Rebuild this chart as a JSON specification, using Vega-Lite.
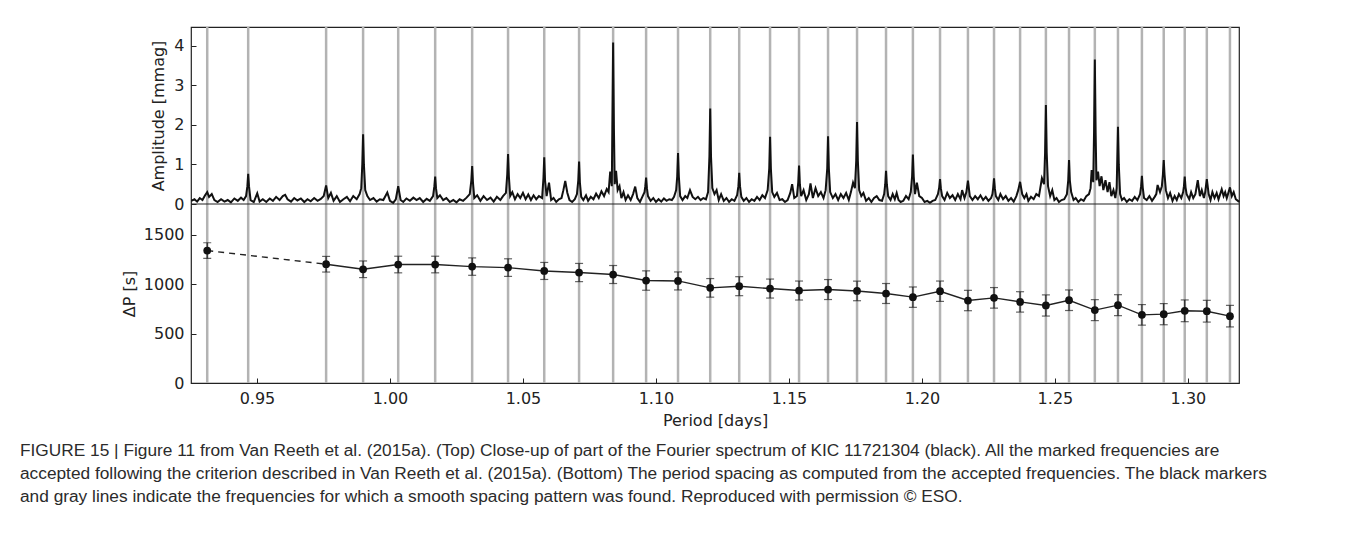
{
  "$schema": "https://vega.github.io/schema/vega-lite/v6.json",
  "width": 1048,
  "height": 356,
  "autosize": {"type": "none"},
  "padding": {"left": 191, "top": 27, "right": 116, "bottom": 165},
  "background": "white",
  "config": {
    "view": {"stroke": "#222", "strokeWidth": 1.2},
    "font": "DejaVu Sans",
    "axis": {
      "labelFont": "DejaVu Sans", "labelFontSize": 16, "labelColor": "#222",
      "titleFont": "DejaVu Sans", "titleFontSize": 16, "titleFontWeight": "normal", "titleColor": "#222",
      "grid": false, "domain": false, "tickColor": "#222", "tickSize": -5, "tickWidth": 1, "labelPadding": 12
    }
  },
  "title": {
    "text": [
      "FIGURE 15 | Figure 11 from Van Reeth et al. (2015a). (Top) Close-up of part of the Fourier spectrum of KIC 11721304 (black). All the marked frequencies are",
      "accepted following the criterion described in Van Reeth et al. (2015a). (Bottom) The period spacing as computed from the accepted frequencies. The black markers",
      "and gray lines indicate the frequencies for which a smooth spacing pattern was found. Reproduced with permission © ESO."
    ],
    "orient": "bottom", "anchor": "start", "frame": "group", "dx": -171, "offset": 14,
    "font": "Liberation Sans", "fontSize": 17.3, "fontWeight": "normal", "color": "#2b2b2b", "lineHeight": 23
  },
  "datasets": {
    "modes": [
      {"p": 0.9313}, {"p": 0.9467}, {"p": 0.9760}, {"p": 0.9899}, {"p": 1.0031}, {"p": 1.0170}, {"p": 1.0309}, {"p": 1.0444},
      {"p": 1.0580}, {"p": 1.0711}, {"p": 1.0839}, {"p": 1.0963}, {"p": 1.1083}, {"p": 1.1204}, {"p": 1.1313}, {"p": 1.1429},
      {"p": 1.1538}, {"p": 1.1647}, {"p": 1.1756}, {"p": 1.1865}, {"p": 1.1966}, {"p": 1.2068}, {"p": 1.2173}, {"p": 1.2271},
      {"p": 1.2369}, {"p": 1.2466}, {"p": 1.2553}, {"p": 1.2650}, {"p": 1.2737}, {"p": 1.2827}, {"p": 1.2909}, {"p": 1.2988},
      {"p": 1.3071}, {"p": 1.3158}
    ],
    "dp": [
      {"p": 0.9313, "dp": 1339, "lo": 1260, "hi": 1418},
      {"p": 0.9760, "dp": 1201, "lo": 1122, "hi": 1280},
      {"p": 0.9899, "dp": 1150, "lo": 1066, "hi": 1234},
      {"p": 1.0031, "dp": 1198, "lo": 1114, "hi": 1282},
      {"p": 1.0170, "dp": 1198, "lo": 1114, "hi": 1282},
      {"p": 1.0309, "dp": 1177, "lo": 1089, "hi": 1265},
      {"p": 1.0444, "dp": 1167, "lo": 1078, "hi": 1256},
      {"p": 1.0580, "dp": 1133, "lo": 1047, "hi": 1219},
      {"p": 1.0711, "dp": 1117, "lo": 1025, "hi": 1209},
      {"p": 1.0839, "dp": 1097, "lo": 1006, "hi": 1188},
      {"p": 1.0963, "dp": 1036, "lo": 938, "hi": 1134},
      {"p": 1.1083, "dp": 1032, "lo": 941, "hi": 1123},
      {"p": 1.1204, "dp": 962, "lo": 868, "hi": 1056},
      {"p": 1.1313, "dp": 979, "lo": 883, "hi": 1075},
      {"p": 1.1429, "dp": 955, "lo": 859, "hi": 1051},
      {"p": 1.1538, "dp": 935, "lo": 839, "hi": 1031},
      {"p": 1.1647, "dp": 945, "lo": 844, "hi": 1046},
      {"p": 1.1756, "dp": 931, "lo": 832, "hi": 1030},
      {"p": 1.1865, "dp": 905, "lo": 804, "hi": 1006},
      {"p": 1.1966, "dp": 868, "lo": 765, "hi": 971},
      {"p": 1.2068, "dp": 928, "lo": 825, "hi": 1031},
      {"p": 1.2173, "dp": 834, "lo": 731, "hi": 937},
      {"p": 1.2271, "dp": 861, "lo": 757, "hi": 965},
      {"p": 1.2369, "dp": 820, "lo": 717, "hi": 923},
      {"p": 1.2466, "dp": 784, "lo": 677, "hi": 891},
      {"p": 1.2553, "dp": 837, "lo": 733, "hi": 941},
      {"p": 1.2650, "dp": 737, "lo": 631, "hi": 843},
      {"p": 1.2737, "dp": 787, "lo": 681, "hi": 893},
      {"p": 1.2827, "dp": 689, "lo": 585, "hi": 793},
      {"p": 1.2909, "dp": 696, "lo": 589, "hi": 803},
      {"p": 1.2988, "dp": 730, "lo": 620, "hi": 840},
      {"p": 1.3071, "dp": 726, "lo": 616, "hi": 836},
      {"p": 1.3158, "dp": 676, "lo": 567, "hi": 785}
    ],
    "spec": [
      {"p": 0.9253, "a": 0.08}, {"p": 0.9265, "a": 0.12}, {"p": 0.9275, "a": 0.06}, {"p": 0.9285, "a": 0.15},
      {"p": 0.9295, "a": 0.10}, {"p": 0.9305, "a": 0.22}, {"p": 0.9313, "a": 0.30}, {"p": 0.9320, "a": 0.18},
      {"p": 0.9330, "a": 0.25}, {"p": 0.9340, "a": 0.10}, {"p": 0.9352, "a": 0.05}, {"p": 0.9365, "a": 0.12},
      {"p": 0.9378, "a": 0.06}, {"p": 0.9390, "a": 0.10}, {"p": 0.9402, "a": 0.04}, {"p": 0.9415, "a": 0.14},
      {"p": 0.9428, "a": 0.08}, {"p": 0.9440, "a": 0.16}, {"p": 0.9450, "a": 0.10}, {"p": 0.9459, "a": 0.20},
      {"p": 0.9464, "a": 0.45}, {"p": 0.9467, "a": 0.76}, {"p": 0.9470, "a": 0.45}, {"p": 0.9476, "a": 0.10},
      {"p": 0.9488, "a": 0.05}, {"p": 0.9501, "a": 0.27},
      {"p": 0.9510, "a": 0.06}, {"p": 0.9522, "a": 0.12}, {"p": 0.9535, "a": 0.05}, {"p": 0.9548, "a": 0.14},
      {"p": 0.9560, "a": 0.08}, {"p": 0.9572, "a": 0.18}, {"p": 0.9585, "a": 0.10}, {"p": 0.9597, "a": 0.20},
      {"p": 0.9606, "a": 0.23}, {"p": 0.9615, "a": 0.12}, {"p": 0.9628, "a": 0.06}, {"p": 0.9640, "a": 0.15},
      {"p": 0.9652, "a": 0.09}, {"p": 0.9665, "a": 0.14}, {"p": 0.9678, "a": 0.05}, {"p": 0.9690, "a": 0.12},
      {"p": 0.9702, "a": 0.07}, {"p": 0.9715, "a": 0.15}, {"p": 0.9728, "a": 0.08}, {"p": 0.9740, "a": 0.13},
      {"p": 0.9751, "a": 0.20}, {"p": 0.9760, "a": 0.47}, {"p": 0.9768, "a": 0.15}, {"p": 0.9778, "a": 0.28},
      {"p": 0.9788, "a": 0.08}, {"p": 0.9800, "a": 0.20}, {"p": 0.9812, "a": 0.05}, {"p": 0.9825, "a": 0.12},
      {"p": 0.9838, "a": 0.18}, {"p": 0.9850, "a": 0.07}, {"p": 0.9862, "a": 0.20}, {"p": 0.9875, "a": 0.12},
      {"p": 0.9886, "a": 0.25}, {"p": 0.9892, "a": 0.40}, {"p": 0.9896, "a": 1.0}, {"p": 0.9899, "a": 1.76},
      {"p": 0.9902, "a": 1.0}, {"p": 0.9907, "a": 0.35},
      {"p": 0.9915, "a": 0.20}, {"p": 0.9925, "a": 0.10}, {"p": 0.9938, "a": 0.15}, {"p": 0.9950, "a": 0.06},
      {"p": 0.9962, "a": 0.12}, {"p": 0.9975, "a": 0.10}, {"p": 0.9990, "a": 0.29}, {"p": 1.0000, "a": 0.08},
      {"p": 1.0012, "a": 0.03}, {"p": 1.0022, "a": 0.12}, {"p": 1.0031, "a": 0.45}, {"p": 1.0040, "a": 0.10},
      {"p": 1.0050, "a": 0.05}, {"p": 1.0062, "a": 0.14}, {"p": 1.0075, "a": 0.08}, {"p": 1.0088, "a": 0.16},
      {"p": 1.0100, "a": 0.10}, {"p": 1.0112, "a": 0.15}, {"p": 1.0125, "a": 0.05}, {"p": 1.0138, "a": 0.13},
      {"p": 1.0150, "a": 0.08}, {"p": 1.0162, "a": 0.20}, {"p": 1.0167, "a": 0.45}, {"p": 1.0170, "a": 0.69},
      {"p": 1.0173, "a": 0.40}, {"p": 1.0178, "a": 0.15},
      {"p": 1.0188, "a": 0.22}, {"p": 1.0200, "a": 0.10}, {"p": 1.0212, "a": 0.15}, {"p": 1.0225, "a": 0.05},
      {"p": 1.0238, "a": 0.10}, {"p": 1.0250, "a": 0.04}, {"p": 1.0262, "a": 0.12}, {"p": 1.0275, "a": 0.08},
      {"p": 1.0288, "a": 0.16}, {"p": 1.0300, "a": 0.25}, {"p": 1.0306, "a": 0.6}, {"p": 1.0309, "a": 0.96},
      {"p": 1.0312, "a": 0.55}, {"p": 1.0317, "a": 0.15},
      {"p": 1.0328, "a": 0.22}, {"p": 1.0340, "a": 0.08}, {"p": 1.0352, "a": 0.20}, {"p": 1.0365, "a": 0.10},
      {"p": 1.0378, "a": 0.16}, {"p": 1.0390, "a": 0.06}, {"p": 1.0402, "a": 0.18}, {"p": 1.0415, "a": 0.10},
      {"p": 1.0425, "a": 0.20}, {"p": 1.0436, "a": 0.28}, {"p": 1.0441, "a": 0.75}, {"p": 1.0444, "a": 1.26},
      {"p": 1.0447, "a": 0.7}, {"p": 1.0452, "a": 0.20},
      {"p": 1.0460, "a": 0.30}, {"p": 1.0470, "a": 0.12}, {"p": 1.0480, "a": 0.25}, {"p": 1.0490, "a": 0.15},
      {"p": 1.0500, "a": 0.28}, {"p": 1.0510, "a": 0.12}, {"p": 1.0520, "a": 0.24}, {"p": 1.0530, "a": 0.10},
      {"p": 1.0540, "a": 0.22}, {"p": 1.0550, "a": 0.12}, {"p": 1.0560, "a": 0.20}, {"p": 1.0572, "a": 0.15},
      {"p": 1.0577, "a": 0.65}, {"p": 1.0580, "a": 1.18}, {"p": 1.0583, "a": 0.6}, {"p": 1.0589, "a": 0.20},
      {"p": 1.0598, "a": 0.54}, {"p": 1.0606, "a": 0.10},
      {"p": 1.0615, "a": 0.15}, {"p": 1.0625, "a": 0.05}, {"p": 1.0635, "a": 0.12}, {"p": 1.0645, "a": 0.15},
      {"p": 1.0652, "a": 0.35}, {"p": 1.0659, "a": 0.58}, {"p": 1.0667, "a": 0.28}, {"p": 1.0675, "a": 0.10},
      {"p": 1.0685, "a": 0.05}, {"p": 1.0695, "a": 0.12}, {"p": 1.0703, "a": 0.25}, {"p": 1.0708, "a": 0.6},
      {"p": 1.0711, "a": 1.07}, {"p": 1.0714, "a": 0.55},
      {"p": 1.0719, "a": 0.18}, {"p": 1.0727, "a": 0.10}, {"p": 1.0737, "a": 0.22}, {"p": 1.0745, "a": 0.08},
      {"p": 1.0755, "a": 0.18}, {"p": 1.0765, "a": 0.12}, {"p": 1.0775, "a": 0.26}, {"p": 1.0785, "a": 0.15},
      {"p": 1.0795, "a": 0.32}, {"p": 1.0805, "a": 0.20}, {"p": 1.0815, "a": 0.38}, {"p": 1.0822, "a": 0.30},
      {"p": 1.0828, "a": 0.82}, {"p": 1.0834, "a": 0.45}, {"p": 1.0836, "a": 1.9}, {"p": 1.0839, "a": 4.08},
      {"p": 1.0842, "a": 1.9}, {"p": 1.0845, "a": 0.50}, {"p": 1.0850, "a": 0.84}, {"p": 1.0856, "a": 0.35},
      {"p": 1.0863, "a": 0.45}, {"p": 1.0870, "a": 0.15}, {"p": 1.0878, "a": 0.30}, {"p": 1.0886, "a": 0.10},
      {"p": 1.0895, "a": 0.22}, {"p": 1.0905, "a": 0.10}, {"p": 1.0914, "a": 0.25}, {"p": 1.0922, "a": 0.44},
      {"p": 1.0930, "a": 0.15}, {"p": 1.0940, "a": 0.05}, {"p": 1.0950, "a": 0.20}, {"p": 1.0957, "a": 0.30},
      {"p": 1.0960, "a": 0.45}, {"p": 1.0963, "a": 0.67}, {"p": 1.0966, "a": 0.40}, {"p": 1.0970, "a": 0.20},
      {"p": 1.0980, "a": 0.08}, {"p": 1.0990, "a": 0.15},
      {"p": 1.1000, "a": 0.05}, {"p": 1.1010, "a": 0.12}, {"p": 1.1020, "a": 0.06}, {"p": 1.1030, "a": 0.14},
      {"p": 1.1040, "a": 0.08}, {"p": 1.1050, "a": 0.12}, {"p": 1.1060, "a": 0.10}, {"p": 1.1068, "a": 0.18},
      {"p": 1.1076, "a": 0.35}, {"p": 1.1080, "a": 0.7}, {"p": 1.1083, "a": 1.29}, {"p": 1.1086, "a": 0.7},
      {"p": 1.1091, "a": 0.20}, {"p": 1.1100, "a": 0.10},
      {"p": 1.1110, "a": 0.20}, {"p": 1.1118, "a": 0.15}, {"p": 1.1128, "a": 0.35}, {"p": 1.1138, "a": 0.18},
      {"p": 1.1148, "a": 0.12}, {"p": 1.1158, "a": 0.18}, {"p": 1.1168, "a": 0.10}, {"p": 1.1178, "a": 0.15},
      {"p": 1.1188, "a": 0.12}, {"p": 1.1196, "a": 0.30}, {"p": 1.1201, "a": 1.2}, {"p": 1.1204, "a": 2.41},
      {"p": 1.1207, "a": 1.2}, {"p": 1.1212, "a": 0.40}, {"p": 1.1220, "a": 0.25}, {"p": 1.1228, "a": 0.35},
      {"p": 1.1236, "a": 0.10}, {"p": 1.1245, "a": 0.25}, {"p": 1.1255, "a": 0.08}, {"p": 1.1265, "a": 0.15},
      {"p": 1.1275, "a": 0.05}, {"p": 1.1285, "a": 0.12}, {"p": 1.1295, "a": 0.08}, {"p": 1.1305, "a": 0.22},
      {"p": 1.1310, "a": 0.45}, {"p": 1.1313, "a": 0.79}, {"p": 1.1316, "a": 0.45}, {"p": 1.1321, "a": 0.18},
      {"p": 1.1330, "a": 0.08}, {"p": 1.1340, "a": 0.15},
      {"p": 1.1350, "a": 0.05}, {"p": 1.1360, "a": 0.12}, {"p": 1.1370, "a": 0.08}, {"p": 1.1380, "a": 0.18},
      {"p": 1.1390, "a": 0.10}, {"p": 1.1400, "a": 0.22}, {"p": 1.1410, "a": 0.15}, {"p": 1.1420, "a": 0.35},
      {"p": 1.1426, "a": 0.9}, {"p": 1.1429, "a": 1.70}, {"p": 1.1432, "a": 0.9}, {"p": 1.1437, "a": 0.30},
      {"p": 1.1445, "a": 0.18}, {"p": 1.1455, "a": 0.28},
      {"p": 1.1465, "a": 0.10}, {"p": 1.1475, "a": 0.12}, {"p": 1.1485, "a": 0.05}, {"p": 1.1495, "a": 0.10},
      {"p": 1.1505, "a": 0.28}, {"p": 1.1512, "a": 0.50}, {"p": 1.1520, "a": 0.15}, {"p": 1.1530, "a": 0.20},
      {"p": 1.1535, "a": 0.55}, {"p": 1.1538, "a": 0.97}, {"p": 1.1541, "a": 0.5}, {"p": 1.1546, "a": 0.20},
      {"p": 1.1555, "a": 0.35}, {"p": 1.1565, "a": 0.10},
      {"p": 1.1575, "a": 0.25}, {"p": 1.1581, "a": 0.52}, {"p": 1.1590, "a": 0.15}, {"p": 1.1600, "a": 0.40},
      {"p": 1.1610, "a": 0.20}, {"p": 1.1620, "a": 0.30}, {"p": 1.1630, "a": 0.15}, {"p": 1.1638, "a": 0.35},
      {"p": 1.1644, "a": 0.9}, {"p": 1.1647, "a": 1.71}, {"p": 1.1650, "a": 0.9}, {"p": 1.1655, "a": 0.30},
      {"p": 1.1665, "a": 0.15}, {"p": 1.1675, "a": 0.25},
      {"p": 1.1685, "a": 0.10}, {"p": 1.1695, "a": 0.25}, {"p": 1.1705, "a": 0.15}, {"p": 1.1715, "a": 0.28},
      {"p": 1.1725, "a": 0.10}, {"p": 1.1733, "a": 0.30}, {"p": 1.1741, "a": 0.54}, {"p": 1.1748, "a": 0.40},
      {"p": 1.1753, "a": 1.1}, {"p": 1.1756, "a": 2.07}, {"p": 1.1759, "a": 1.1}, {"p": 1.1764, "a": 0.35},
      {"p": 1.1772, "a": 0.20}, {"p": 1.1780, "a": 0.28},
      {"p": 1.1790, "a": 0.08}, {"p": 1.1800, "a": 0.15}, {"p": 1.1810, "a": 0.05}, {"p": 1.1820, "a": 0.15},
      {"p": 1.1830, "a": 0.20}, {"p": 1.1840, "a": 0.10}, {"p": 1.1850, "a": 0.08}, {"p": 1.1858, "a": 0.25},
      {"p": 1.1862, "a": 0.5}, {"p": 1.1865, "a": 0.84}, {"p": 1.1868, "a": 0.5}, {"p": 1.1873, "a": 0.20},
      {"p": 1.1882, "a": 0.10}, {"p": 1.1890, "a": 0.25},
      {"p": 1.1898, "a": 0.12}, {"p": 1.1905, "a": 0.28}, {"p": 1.1912, "a": 0.10}, {"p": 1.1920, "a": 0.05},
      {"p": 1.1930, "a": 0.08}, {"p": 1.1940, "a": 0.20}, {"p": 1.1950, "a": 0.12}, {"p": 1.1958, "a": 0.30},
      {"p": 1.1963, "a": 0.7}, {"p": 1.1966, "a": 1.25}, {"p": 1.1969, "a": 0.7}, {"p": 1.1974, "a": 0.25},
      {"p": 1.1981, "a": 0.54}, {"p": 1.1990, "a": 0.20},
      {"p": 1.2000, "a": 0.15}, {"p": 1.2010, "a": 0.05}, {"p": 1.2020, "a": 0.08}, {"p": 1.2030, "a": 0.03},
      {"p": 1.2040, "a": 0.08}, {"p": 1.2050, "a": 0.10}, {"p": 1.2060, "a": 0.25}, {"p": 1.2065, "a": 0.42},
      {"p": 1.2068, "a": 0.63}, {"p": 1.2071, "a": 0.4},
      {"p": 1.2076, "a": 0.20}, {"p": 1.2085, "a": 0.10}, {"p": 1.2095, "a": 0.28}, {"p": 1.2105, "a": 0.15},
      {"p": 1.2115, "a": 0.22}, {"p": 1.2125, "a": 0.10}, {"p": 1.2135, "a": 0.25}, {"p": 1.2145, "a": 0.12},
      {"p": 1.2151, "a": 0.35}, {"p": 1.2160, "a": 0.15}, {"p": 1.2167, "a": 0.30}, {"p": 1.2173, "a": 0.59},
      {"p": 1.2180, "a": 0.20}, {"p": 1.2190, "a": 0.10}, {"p": 1.2200, "a": 0.20}, {"p": 1.2210, "a": 0.12},
      {"p": 1.2220, "a": 0.22}, {"p": 1.2230, "a": 0.10}, {"p": 1.2240, "a": 0.18}, {"p": 1.2250, "a": 0.08},
      {"p": 1.2260, "a": 0.15}, {"p": 1.2265, "a": 0.25}, {"p": 1.2268, "a": 0.42}, {"p": 1.2271, "a": 0.65},
      {"p": 1.2274, "a": 0.4}, {"p": 1.2278, "a": 0.20},
      {"p": 1.2287, "a": 0.10}, {"p": 1.2295, "a": 0.25}, {"p": 1.2305, "a": 0.12}, {"p": 1.2315, "a": 0.20},
      {"p": 1.2325, "a": 0.08}, {"p": 1.2335, "a": 0.15}, {"p": 1.2345, "a": 0.06}, {"p": 1.2355, "a": 0.20},
      {"p": 1.2362, "a": 0.35}, {"p": 1.2369, "a": 0.56}, {"p": 1.2377, "a": 0.25}, {"p": 1.2385, "a": 0.15},
      {"p": 1.2393, "a": 0.25}, {"p": 1.2400, "a": 0.08}, {"p": 1.2410, "a": 0.18}, {"p": 1.2420, "a": 0.12},
      {"p": 1.2430, "a": 0.25}, {"p": 1.2440, "a": 0.20}, {"p": 1.2451, "a": 0.65}, {"p": 1.2459, "a": 0.50},
      {"p": 1.2463, "a": 1.3}, {"p": 1.2466, "a": 2.50}, {"p": 1.2469, "a": 1.3}, {"p": 1.2474, "a": 0.45},
      {"p": 1.2482, "a": 0.20}, {"p": 1.2490, "a": 0.35}, {"p": 1.2498, "a": 0.10}, {"p": 1.2506, "a": 0.15},
      {"p": 1.2515, "a": 0.05}, {"p": 1.2525, "a": 0.10}, {"p": 1.2535, "a": 0.12}, {"p": 1.2545, "a": 0.25},
      {"p": 1.2550, "a": 0.6}, {"p": 1.2553, "a": 1.11}, {"p": 1.2556, "a": 0.6}, {"p": 1.2561, "a": 0.30},
      {"p": 1.2570, "a": 0.10}, {"p": 1.2578, "a": 0.15},
      {"p": 1.2588, "a": 0.05}, {"p": 1.2598, "a": 0.12}, {"p": 1.2608, "a": 0.08}, {"p": 1.2618, "a": 0.20},
      {"p": 1.2628, "a": 0.25}, {"p": 1.2634, "a": 0.40}, {"p": 1.2638, "a": 0.86}, {"p": 1.2644, "a": 0.55},
      {"p": 1.2647, "a": 1.8}, {"p": 1.2650, "a": 3.65}, {"p": 1.2653, "a": 1.8}, {"p": 1.2656, "a": 0.60},
      {"p": 1.2662, "a": 0.82}, {"p": 1.2668, "a": 0.45}, {"p": 1.2675, "a": 0.70}, {"p": 1.2682, "a": 0.35},
      {"p": 1.2690, "a": 0.60}, {"p": 1.2698, "a": 0.30}, {"p": 1.2705, "a": 0.55}, {"p": 1.2712, "a": 0.20},
      {"p": 1.2720, "a": 0.35}, {"p": 1.2727, "a": 0.15}, {"p": 1.2732, "a": 0.40}, {"p": 1.2734, "a": 1.0},
      {"p": 1.2737, "a": 1.95}, {"p": 1.2740, "a": 1.0},
      {"p": 1.2745, "a": 0.25}, {"p": 1.2752, "a": 0.10}, {"p": 1.2760, "a": 0.15}, {"p": 1.2770, "a": 0.05},
      {"p": 1.2780, "a": 0.12}, {"p": 1.2790, "a": 0.08}, {"p": 1.2800, "a": 0.18}, {"p": 1.2810, "a": 0.10},
      {"p": 1.2820, "a": 0.25}, {"p": 1.2824, "a": 0.45}, {"p": 1.2827, "a": 0.71}, {"p": 1.2830, "a": 0.42},
      {"p": 1.2835, "a": 0.15}, {"p": 1.2845, "a": 0.10},
      {"p": 1.2855, "a": 0.20}, {"p": 1.2865, "a": 0.08}, {"p": 1.2875, "a": 0.18}, {"p": 1.2881, "a": 0.25},
      {"p": 1.2886, "a": 0.48}, {"p": 1.2895, "a": 0.30}, {"p": 1.2902, "a": 0.45}, {"p": 1.2906, "a": 0.75},
      {"p": 1.2909, "a": 1.11}, {"p": 1.2912, "a": 0.75},
      {"p": 1.2917, "a": 0.35}, {"p": 1.2925, "a": 0.15}, {"p": 1.2933, "a": 0.28}, {"p": 1.2942, "a": 0.08},
      {"p": 1.2950, "a": 0.20}, {"p": 1.2958, "a": 0.10}, {"p": 1.2966, "a": 0.25}, {"p": 1.2975, "a": 0.15},
      {"p": 1.2982, "a": 0.30}, {"p": 1.2985, "a": 0.45}, {"p": 1.2988, "a": 0.69}, {"p": 1.2991, "a": 0.42},
      {"p": 1.2995, "a": 0.25}, {"p": 1.3005, "a": 0.12},
      {"p": 1.3012, "a": 0.30}, {"p": 1.3020, "a": 0.15}, {"p": 1.3028, "a": 0.25}, {"p": 1.3037, "a": 0.60},
      {"p": 1.3045, "a": 0.20}, {"p": 1.3052, "a": 0.35}, {"p": 1.3060, "a": 0.15}, {"p": 1.3065, "a": 0.30},
      {"p": 1.3071, "a": 0.63}, {"p": 1.3078, "a": 0.25}, {"p": 1.3085, "a": 0.10}, {"p": 1.3092, "a": 0.30},
      {"p": 1.3100, "a": 0.15}, {"p": 1.3108, "a": 0.28}, {"p": 1.3115, "a": 0.12}, {"p": 1.3127, "a": 0.37},
      {"p": 1.3134, "a": 0.20}, {"p": 1.3140, "a": 0.30}, {"p": 1.3146, "a": 0.15}, {"p": 1.3152, "a": 0.28},
      {"p": 1.3158, "a": 0.42}, {"p": 1.3165, "a": 0.20}, {"p": 1.3172, "a": 0.30}, {"p": 1.3180, "a": 0.12},
      {"p": 1.3188, "a": 0.08}, {"p": 1.3192, "a": 0.05}
    ]
  },
  "resolve": {"scale": {"y": "independent"}},
  "layer": [
    {
      "data": {"name": "modes"},
      "mark": {"type": "rule", "color": "#b3b3b3", "strokeWidth": 2.5},
      "encoding": {
        "x": {"field": "p", "type": "quantitative", "scale": {"domain": [0.9252, 1.3192], "nice": false, "zero": false},
          "axis": {"title": "Period [days]", "values": [0.95, 1.0, 1.05, 1.1, 1.15, 1.2, 1.25, 1.3], "format": ".2f", "titlePadding": 6}}
      }
    },
    {
      "data": {"name": "spec"},
      "mark": {"type": "line", "color": "#111", "strokeWidth": 2},
      "encoding": {
        "x": {"field": "p", "type": "quantitative", "scale": {"domain": [0.9252, 1.3192], "nice": false, "zero": false},
          "axis": {"title": "Period [days]", "values": [0.95, 1.0, 1.05, 1.1, 1.15, 1.2, 1.25, 1.3], "format": ".2f", "titlePadding": 6}},
        "y": {"field": "a", "type": "quantitative", "scale": {"domain": [0, 4.47], "range": [177, 0], "nice": false, "zero": false},
          "axis": {"title": "Amplitude [mmag]", "orient": "left", "values": [0, 1, 2, 3, 4], "titlePadding": 7}}
      }
    },
    {
      "data": {"values": [{}]},
      "mark": {"type": "rule", "color": "#222", "strokeWidth": 1.2},
      "encoding": {
        "y": {"datum": 0, "type": "quantitative", "scale": {"domain": [0, 4.47], "range": [177, 0], "nice": false, "zero": false}, "axis": null}
      }
    },
    {
      "data": {"name": "dp"},
      "mark": {"type": "rule", "color": "#222", "strokeWidth": 1.2},
      "encoding": {
        "x": {"field": "p", "type": "quantitative", "scale": {"domain": [0.9252, 1.3192], "nice": false, "zero": false},
          "axis": {"title": "Period [days]", "values": [0.95, 1.0, 1.05, 1.1, 1.15, 1.2, 1.25, 1.3], "format": ".2f", "titlePadding": 6}},
        "y": {"field": "lo", "type": "quantitative", "scale": {"domain": [0, 1810], "range": [356, 177], "nice": false, "zero": false}, "axis": null},
        "y2": {"field": "hi"}
      }
    },
    {
      "data": {"name": "dp"},
      "mark": {"type": "tick", "orient": "horizontal", "color": "#222", "size": 8, "thickness": 1.2},
      "encoding": {
        "x": {"field": "p", "type": "quantitative", "scale": {"domain": [0.9252, 1.3192], "nice": false, "zero": false},
          "axis": {"title": "Period [days]", "values": [0.95, 1.0, 1.05, 1.1, 1.15, 1.2, 1.25, 1.3], "format": ".2f", "titlePadding": 6}},
        "y": {"field": "lo", "type": "quantitative", "scale": {"domain": [0, 1810], "range": [356, 177], "nice": false, "zero": false}, "axis": null}
      }
    },
    {
      "data": {"name": "dp"},
      "mark": {"type": "tick", "orient": "horizontal", "color": "#222", "size": 8, "thickness": 1.2},
      "encoding": {
        "x": {"field": "p", "type": "quantitative", "scale": {"domain": [0.9252, 1.3192], "nice": false, "zero": false},
          "axis": {"title": "Period [days]", "values": [0.95, 1.0, 1.05, 1.1, 1.15, 1.2, 1.25, 1.3], "format": ".2f", "titlePadding": 6}},
        "y": {"field": "hi", "type": "quantitative", "scale": {"domain": [0, 1810], "range": [356, 177], "nice": false, "zero": false}, "axis": null}
      }
    },
    {
      "data": {"name": "dp"},
      "transform": [{"filter": "datum.p < 0.98"}],
      "mark": {"type": "line", "color": "#222", "strokeWidth": 1.4, "strokeDash": [6, 5]},
      "encoding": {
        "x": {"field": "p", "type": "quantitative", "scale": {"domain": [0.9252, 1.3192], "nice": false, "zero": false},
          "axis": {"title": "Period [days]", "values": [0.95, 1.0, 1.05, 1.1, 1.15, 1.2, 1.25, 1.3], "format": ".2f", "titlePadding": 6}},
        "y": {"field": "dp", "type": "quantitative", "scale": {"domain": [0, 1810], "range": [356, 177], "nice": false, "zero": false}, "axis": null}
      }
    },
    {
      "data": {"name": "dp"},
      "transform": [{"filter": "datum.p > 0.95"}],
      "mark": {"type": "line", "color": "#222", "strokeWidth": 1.4},
      "encoding": {
        "x": {"field": "p", "type": "quantitative", "scale": {"domain": [0.9252, 1.3192], "nice": false, "zero": false},
          "axis": {"title": "Period [days]", "values": [0.95, 1.0, 1.05, 1.1, 1.15, 1.2, 1.25, 1.3], "format": ".2f", "titlePadding": 6}},
        "y": {"field": "dp", "type": "quantitative", "scale": {"domain": [0, 1810], "range": [356, 177], "nice": false, "zero": false}, "axis": null}
      }
    },
    {
      "data": {"name": "dp"},
      "mark": {"type": "circle", "color": "#111", "size": 60, "opacity": 1},
      "encoding": {
        "x": {"field": "p", "type": "quantitative", "scale": {"domain": [0.9252, 1.3192], "nice": false, "zero": false},
          "axis": {"title": "Period [days]", "values": [0.95, 1.0, 1.05, 1.1, 1.15, 1.2, 1.25, 1.3], "format": ".2f", "titlePadding": 6}},
        "y": {"field": "dp", "type": "quantitative", "scale": {"domain": [0, 1810], "range": [356, 177], "nice": false, "zero": false},
          "axis": {"title": "ΔP [s]", "orient": "left", "format": "d", "values": [0, 500, 1000, 1500], "titlePadding": 6}}
      }
    }
  ]
}
